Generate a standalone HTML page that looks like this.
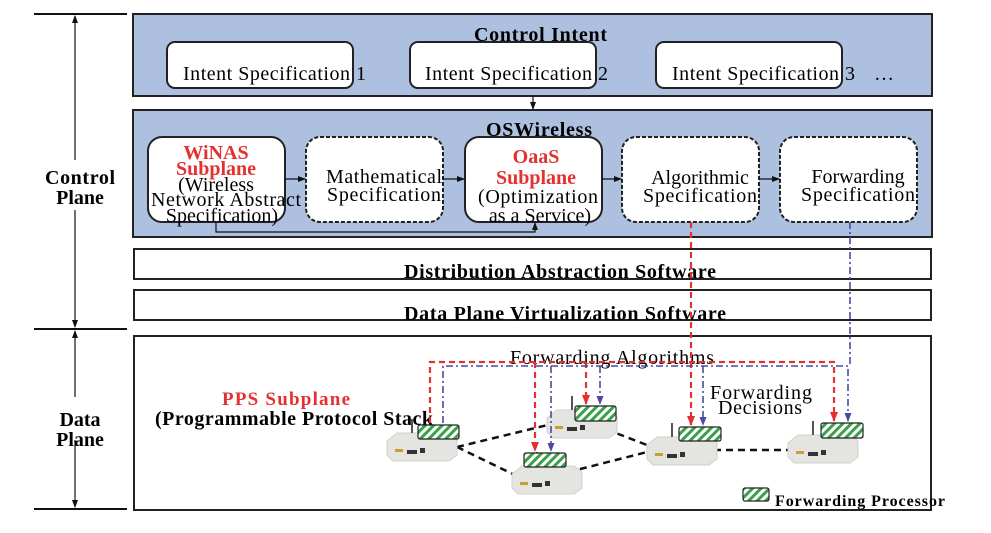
<!DOCTYPE html>
<html><head><meta charset="utf-8"><style>
body{margin:0;background:#fff;width:991px;height:528px;overflow:hidden}
text{font-family:"Liberation Serif",serif}
</style></head><body>
<svg width="991" height="528" viewBox="0 0 991 528" xmlns="http://www.w3.org/2000/svg">
<defs>
<pattern id="h" width="6" height="6" patternUnits="userSpaceOnUse" patternTransform="rotate(45)">
<rect width="6" height="6" fill="#fff"/><rect width="3" height="6" fill="#3aa04a"/></pattern>
<marker id="a" markerUnits="userSpaceOnUse" markerWidth="8" markerHeight="8" refX="7" refY="4" orient="auto"><path d="M0,1 L8,4 L0,7z" fill="#111"/></marker>
<marker id="r" markerUnits="userSpaceOnUse" markerWidth="10" markerHeight="10" refX="9" refY="5" orient="auto"><path d="M0,1 L10,5 L0,9z" fill="#e53030"/></marker>
<marker id="b" markerUnits="userSpaceOnUse" markerWidth="9" markerHeight="9" refX="8" refY="4.5" orient="auto"><path d="M0,1 L9,4.5 L0,8z" fill="#4a4aa0"/></marker>
<g id="rt"><path d="M0,8 L10,0 L62,0 L70,6 L70,22 L62,28 L6,28 L0,22z" fill="#e4e4e0" stroke="#d0d0cc"/><rect x="8" y="16" width="8" height="3" fill="#c9a030"/><rect x="20" y="17" width="10" height="4" fill="#333"/><rect x="33" y="15" width="5" height="5" fill="#333"/><line x1="25" y1="0" x2="25" y2="-14" stroke="#555" stroke-width="2"/></g>
</defs>
<g stroke="#111" stroke-width="2"><line x1="34" y1="14" x2="127" y2="14"/><line x1="34" y1="329" x2="127" y2="329"/><line x1="34" y1="509" x2="127" y2="509"/></g>
<g stroke="#111" stroke-width="1.2"><line x1="75" y1="160" x2="75" y2="16" marker-end="url(#a)"/><line x1="75" y1="210" x2="75" y2="327" marker-end="url(#a)"/><line x1="75" y1="397" x2="75" y2="331" marker-end="url(#a)"/><line x1="75" y1="440" x2="75" y2="507" marker-end="url(#a)"/></g>
<g font-size="20" font-weight="bold" text-anchor="middle">
<text x="80" y="184" textLength="70">Control</text>
<text x="80" y="204">Plane</text>
<text x="80" y="426">Data</text>
<text x="80" y="446">Plane</text></g>
<rect x="133" y="14" width="799" height="82" fill="#adc0df" stroke="#222" stroke-width="2"/>
<text x="474" y="41" font-size="20" font-weight="bold" textLength="133">Control Intent</text>
<g fill="#fff" stroke="#222" stroke-width="2"><rect x="167" y="42" width="186" height="46" rx="8"/><rect x="410" y="42" width="186" height="46" rx="8"/><rect x="656" y="42" width="186" height="46" rx="8"/></g>
<g font-size="20"><text x="183" y="80" textLength="183">Intent Specification 1</text><text x="425" y="80" textLength="183">Intent Specification 2</text><text x="672" y="80" textLength="183">Intent Specification 3</text><text x="874" y="80">…</text></g>
<line x1="533" y1="96" x2="533" y2="109" stroke="#111" stroke-width="1.2" marker-end="url(#a)"/>
<rect x="133" y="110" width="799" height="127" fill="#adc0df" stroke="#222" stroke-width="2"/>
<text x="486" y="136" font-size="20" font-weight="bold" textLength="106">OSWireless</text>
<rect x="148" y="137" width="137" height="85" rx="14" fill="#fff" stroke="#222" stroke-width="2"/>
<rect x="306" y="137" width="137" height="85" rx="14" fill="#fff" stroke="#222" stroke-width="2" stroke-dasharray="4,2"/>
<rect x="465" y="137" width="137" height="85" rx="14" fill="#fff" stroke="#222" stroke-width="2"/>
<rect x="622" y="137" width="137" height="85" rx="14" fill="#fff" stroke="#222" stroke-width="2" stroke-dasharray="4,2"/>
<rect x="780" y="137" width="137" height="85" rx="14" fill="#fff" stroke="#222" stroke-width="2" stroke-dasharray="4,2"/>
<g stroke="#111" stroke-width="1.2" fill="none"><line x1="285" y1="179" x2="305" y2="179" marker-end="url(#a)"/><line x1="443" y1="179" x2="464" y2="179" marker-end="url(#a)"/><line x1="602" y1="179" x2="621" y2="179" marker-end="url(#a)"/><line x1="759" y1="179" x2="779" y2="179" marker-end="url(#a)"/><path d="M216,222 V232 H535 V223" marker-end="url(#a)"/></g>
<g font-size="20" text-anchor="middle">
<text x="216" y="159" fill="#e53030" font-weight="bold">WiNAS</text><text x="216" y="175" fill="#e53030" font-weight="bold">Subplane</text>
<text x="216" y="191">(Wireless</text><text x="226" y="206" textLength="150">Network Abstract</text><text x="222" y="222">Specification)</text>
<text x="384" y="183" textLength="116">Mathematical</text><text x="384" y="201" textLength="114">Specification</text>
<text x="536" y="163" fill="#e53030" font-weight="bold">OaaS</text><text x="536" y="184" fill="#e53030" font-weight="bold">Subplane</text>
<text x="538" y="203" textLength="120">(Optimization</text><text x="540" y="222">as a Service)</text>
<text x="700" y="184">Algorithmic</text><text x="700" y="202" textLength="114">Specification</text>
<text x="858" y="183">Forwarding</text><text x="858" y="201" textLength="114">Specification</text>
</g>
<rect x="134" y="249" width="797" height="30" fill="#fff" stroke="#222" stroke-width="2"/>
<rect x="134" y="290" width="797" height="30" fill="#fff" stroke="#222" stroke-width="2"/>
<text x="404" y="278" font-size="20" font-weight="bold" textLength="312">Distribution Abstraction Software</text>
<text x="404" y="320" font-size="20" font-weight="bold" textLength="322">Data Plane Virtualization Software</text>
<rect x="134" y="336" width="797" height="174" fill="#fff" stroke="#222" stroke-width="2"/>
<text x="222" y="405" font-size="19" font-weight="bold" fill="#e53030" textLength="128">PPS Subplane</text>
<text x="155" y="425" font-size="20" font-weight="bold" textLength="278">(Programmable Protocol Stack</text>
<text x="510" y="364" font-size="20" textLength="204">Forwarding Algorithms</text>
<text x="710" y="399" font-size="20" textLength="102">Forwarding</text>
<text x="718" y="414" font-size="20" textLength="84">Decisions</text>
<g stroke="#111" stroke-width="2.5" stroke-dasharray="7,5" fill="none">
<line x1="457" y1="447" x2="560" y2="422"/><line x1="457" y1="447" x2="525" y2="480"/><line x1="545" y1="478" x2="655" y2="450"/><line x1="595" y1="425" x2="660" y2="450"/><line x1="690" y1="450" x2="790" y2="450"/></g>
<use href="#rt" x="387" y="433"/><use href="#rt" x="547" y="410"/><use href="#rt" x="512" y="466"/><use href="#rt" x="647" y="437"/><use href="#rt" x="788" y="435"/>
<g stroke="#e53030" stroke-width="2.2" stroke-dasharray="6,4" fill="none">
<path d="M430,423 V362 H834 V421" marker-end="url(#r)"/>
<line x1="535" y1="362" x2="535" y2="451" marker-end="url(#r)"/>
<line x1="586" y1="362" x2="586" y2="404" marker-end="url(#r)"/>
<line x1="691" y1="222" x2="691" y2="425" marker-end="url(#r)"/>
</g>
<g stroke="#4a4aa0" stroke-width="1.6" stroke-dasharray="7,3,2,3" fill="none">
<path d="M443,423 V366 H848 V421" marker-end="url(#b)"/>
<line x1="551" y1="366" x2="551" y2="451" marker-end="url(#b)"/>
<line x1="600" y1="366" x2="600" y2="404" marker-end="url(#b)"/>
<line x1="703" y1="366" x2="703" y2="425" marker-end="url(#b)"/>
<line x1="850" y1="222" x2="850" y2="366"/>
</g>
<g fill="url(#h)" stroke="#222" stroke-width="1.2">
<rect x="418" y="425" width="41" height="14" rx="2"/><rect x="575" y="406" width="41" height="15" rx="2"/><rect x="524" y="453" width="42" height="14" rx="2"/><rect x="679" y="427" width="42" height="14" rx="2"/><rect x="821" y="423" width="42" height="15" rx="2"/><rect x="743" y="488" width="26" height="13" rx="2"/></g>
<text x="775" y="506" font-size="16" font-weight="bold" textLength="170">Forwarding Processor</text>
</svg>
</body></html>
